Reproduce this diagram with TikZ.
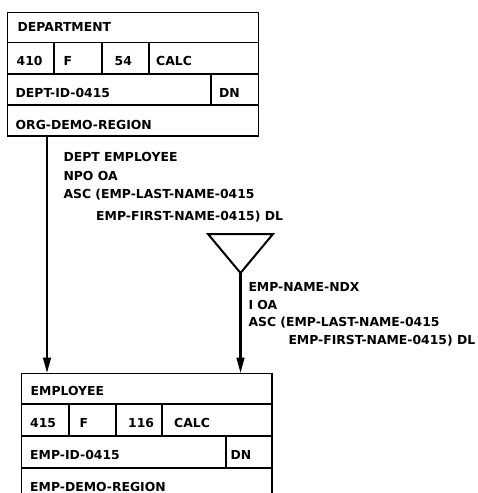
\documentclass[tikz,border=0pt]{standalone}
\usepackage{fontspec}
\setmainfont{DejaVu Sans}
\usetikzlibrary{arrows.meta}

\newcommand{\recfont}{\fontsize{12.4}{14}\selectfont\bfseries}

\begin{document}
\begin{tikzpicture}[x=1pt,y=-1pt]

    %--- Styles
    \tikzstyle{record}=[draw, rectangle, line width=1.5pt, outer sep=0pt, inner sep=0pt, anchor=north west]
    \tikzstyle{rule}=[line width=1.5pt]
    \tikzstyle{divider}=[line width=2.4pt]
    \tikzstyle{cell}=[anchor=base west, inner sep=0pt, font=\recfont]
    \tikzstyle{set line}=[line width=2.8pt, -{Triangle[length=16pt,width=7.5pt]}]

    \useasboundingbox (0,0) rectangle (477,493);

    %--- DEPARTMENT record
    \node[record, minimum width=251.4pt, minimum height=123.3pt] (dept) at (7.3,12.7) {};
    \draw[rule] (7.3,42.7) -- (258.7,42.7);
    \draw[rule] (7.3,74) -- (258.7,74);
    \draw[rule] (7.3,105) -- (258.7,105);
    \draw[divider] (54,42.7) -- (54,74);
    \draw[divider] (102,42.7) -- (102,74);
    \draw[divider] (149,42.7) -- (149,74);
    \draw[divider] (211,74) -- (211,105);

    \node[cell] (deptname) at (17.5,31)   {DEPARTMENT};
    \node[cell] (deptnum)  at (16.5,65)   {410};
    \node[cell] (deptloc)  at (63.5,65)   {F};
    \node[cell] (deptlen)  at (114.5,65)  {54};
    \node[cell] (deptmode) at (156,65)    {CALC};
    \node[cell] (deptcalc) at (15.5,97.3) {DEPT-ID-0415};
    \node[cell] (deptdup)  at (219,97.3)  {DN};
    \node[cell] (deptarea) at (15.5,129)  {ORG-DEMO-REGION};

    %--- EMPLOYEE record (cut off at the bottom)
    \node[record, minimum width=250.3pt, minimum height=140pt] (emp) at (21.7,373.5) {};
    \draw[rule] (21.7,404) -- (272,404);
    \draw[rule] (21.7,436) -- (272,436);
    \draw[rule] (21.7,468) -- (272,468);
    \draw[divider] (69,404) -- (69,436);
    \draw[divider] (116,404) -- (116,436);
    \draw[divider] (162,404) -- (162,436);
    \draw[divider] (226,436) -- (226,468);

    \node[cell] (empname) at (30.5,395.7) {EMPLOYEE};
    \node[cell] (empnum)  at (30,427)     {415};
    \node[cell] (emploc)  at (79.5,427)   {F};
    \node[cell] (emplen)  at (128,427)    {116};
    \node[cell] (empmode) at (174,427)    {CALC};
    \node[cell] (empcalc) at (30,459.3)   {EMP-ID-0415};
    \node[cell] (empdup)  at (230.5,459.3) {DN};
    \node[cell] (emparea) at (30,491)     {EMP-DEMO-REGION};

    %--- DEPT EMPLOYEE set
    \draw[set line] (dept.south -| 47,0) -- (emp.north -| 47,0);
    \node[cell] (set1a) at (63.3,161.7) {DEPT EMPLOYEE};
    \node[cell] (set1b) at (63.3,180)   {NPO OA};
    \node[cell] (set1c) at (63.3,198.7) {ASC (EMP-LAST-NAME-0415};
    \node[cell] (set1d) at (96,220.7)   {EMP-FIRST-NAME-0415) DL};

    %--- EMP-NAME-NDX index set
    \coordinate (ndx) at (240.5,273);
    \draw[line width=2pt, line join=miter] (208,234) -- (273,234) -- (ndx) -- cycle;
    \draw[set line] (ndx) -- (emp.north -| ndx);
    \node[cell] (set2a) at (248.3,291.7) {EMP-NAME-NDX};
    \node[cell] (set2b) at (248.3,309.3) {I OA};
    \node[cell] (set2c) at (248.3,326.7) {ASC (EMP-LAST-NAME-0415};
    \node[cell] (set2d) at (288.3,344)   {EMP-FIRST-NAME-0415) DL};

\end{tikzpicture}
\end{document}
